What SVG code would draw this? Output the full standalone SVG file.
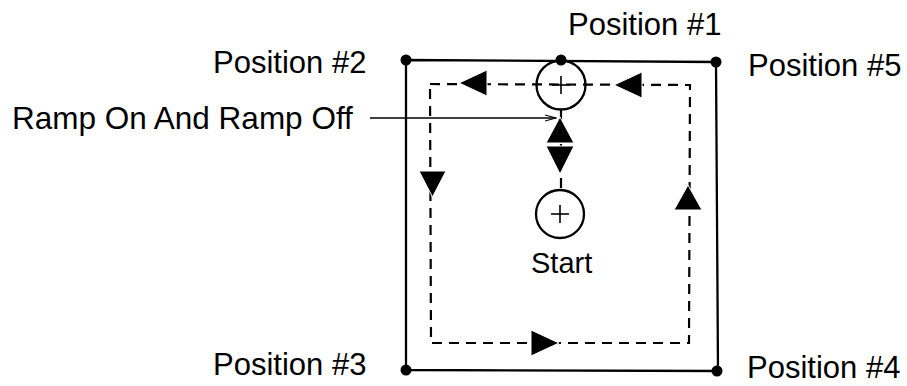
<svg xmlns="http://www.w3.org/2000/svg" width="907" height="386" viewBox="0 0 907 386">
<style>
.lbl{font-family:"Liberation Sans",Arial,sans-serif;font-size:31px;fill:#000}
.solid{fill:none;stroke:#000;stroke-width:2.3}
.dash{fill:none;stroke:#000;stroke-width:2.2;stroke-dasharray:10 7}
.dot{fill:#000}
.tri{fill:#000;stroke:#fff;stroke-width:1}
.thin{fill:none;stroke:#000;stroke-width:1.6}
</style>
<defs>
<marker id="ah" markerWidth="12" markerHeight="8" refX="11" refY="4" orient="auto" markerUnits="userSpaceOnUse">
<path d="M0,1 L11,4 L0,7" fill="none" stroke="#000" stroke-width="1.2"/>
</marker>
</defs>
<g id="connectors">
<path id="outer-rect" class="solid" d="M406,60 L716,62 L718,371 L406,370 Z"/>
<path id="path-loop" class="dash" d="M430,84 L690,85 L689,343 L431,343 Z"/>
<line id="ramp-path" class="dash" x1="561" y1="110" x2="561" y2="190"/>
<line id="ramp-leader" class="thin" x1="370" y1="118" x2="556" y2="118" marker-end="url(#ah)"/>
<polygon class="tri" points="459,83 487,70 487,96"/>
<polygon class="tri" points="614,85 642,72 642,98"/>
<polygon class="tri" points="419,171 446,171 432.5,197"/>
<polygon class="tri" points="688,185 702,210 674,210"/>
<polygon class="tri" points="559,343 531,330 531,356"/>
<polygon class="tri" points="560,117 574,143 546,143"/>
<polygon class="tri" points="546,146 574,146 560,174"/>
</g>
<g id="pos1">
<circle class="dot" cx="561" cy="60" r="5.5"/>
<text class="lbl" x="568" y="35">Position #1</text>
</g>
<g id="pos2">
<circle class="dot" cx="406" cy="60" r="5.5"/>
<text class="lbl" x="213" y="73">Position #2</text>
</g>
<g id="pos5">
<circle class="dot" cx="716" cy="62" r="5.5"/>
<text class="lbl" x="748" y="76">Position #5</text>
</g>
<g id="pos3">
<circle class="dot" cx="406" cy="370" r="5.5"/>
<text class="lbl" x="213" y="375">Position #3</text>
</g>
<g id="pos4">
<circle class="dot" cx="717" cy="371" r="5.5"/>
<text class="lbl" x="747" y="378">Position #4</text>
</g>
<g id="ramp-circle">
<circle class="solid" cx="561" cy="85" r="24.5"/>
<line class="thin" x1="561" y1="76" x2="561" y2="94"/>
<line class="thin" x1="552" y1="85" x2="570" y2="85"/>
</g>
<g id="start">
<circle class="solid" cx="560" cy="214" r="24"/>
<line class="thin" x1="560" y1="205" x2="560" y2="223"/>
<line class="thin" x1="551" y1="214" x2="569" y2="214"/>
<text class="lbl" x="531" y="273" style="font-size:29px">Start</text>
</g>
<g id="ramp-label">
<text class="lbl" x="12" y="129" style="font-size:31.5px">Ramp On And Ramp Off</text>
</g>
</svg>
